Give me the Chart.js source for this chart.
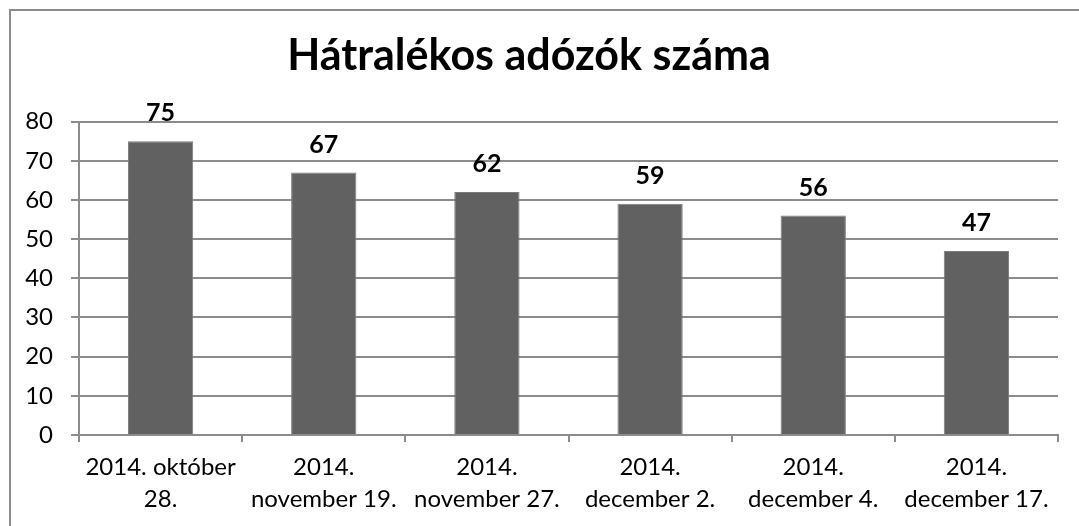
<!DOCTYPE html>
<html>
<head>
<meta charset="utf-8">
<script src="https://cdn.jsdelivr.net/npm/chart.js@4/dist/chart.umd.min.js"></script>
<style>
    html, body { margin: 0; padding: 0; background: #fff; }
    #wrap { position: relative; width: 1079px; height: 526px; }
    #frame {
        position: absolute; left: 9px; top: 9px; width: 1100px; height: 560px;
        border-left: 2px solid #8c8c8c; border-top: 2px solid #8c8c8c;
        pointer-events: none;
    }
</style>
</head>
<body>
<div id="wrap">
    <canvas id="chart" width="1079" height="526"></canvas>
    <div id="frame"></div>
</div>
<script>
const chartTitle = "Hátralékos adózók száma";
const categories = [
    ["2014. október", "28."],
    ["2014.", "november 19."],
    ["2014.", "november 27."],
    ["2014.", "december 2."],
    ["2014.", "december 4."],
    ["2014.", "december 17."]
];
const values = [75, 67, 62, 59, 56, 47];
const yTicks = [0, 10, 20, 30, 40, 50, 60, 70, 80];

const FONT = "Lato, 'Noto Sans', sans-serif";
const GRID = "#8c8c8c";

// Draws the numbers above each bar.
const valueLabels = {
    id: "valueLabels",
    afterDatasetsDraw(chart) {
        const ctx = chart.ctx;
        const meta = chart.getDatasetMeta(0);
        ctx.save();
        ctx.font = "bold 25px " + FONT;
        ctx.fillStyle = "#000";
        ctx.textAlign = "center";
        ctx.textBaseline = "middle";
        meta.data.forEach((bar, i) => {
            ctx.fillText(String(values[i]), bar.x, bar.y - 28);
        });
        ctx.restore();
    }
};

new Chart(document.getElementById("chart"), {
    type: "bar",
    data: {
        labels: categories,
        datasets: [{
            data: values,
            backgroundColor: "#616161",
            borderColor: "#7c7c7c",
            borderWidth: 1,
            barPercentage: 0.4,
            categoryPercentage: 1.0
        }]
    },
    options: {
        responsive: false,
        animation: false,
        layout: { padding: { left: 0, right: 21, top: 0, bottom: 0 } },
        plugins: {
            legend: { display: false },
            tooltip: { enabled: false },
            title: {
                display: true,
                text: chartTitle,
                color: "#000",
                font: { family: FONT, size: 43, weight: "bold", lineHeight: 1.2 },
                padding: { top: 30, bottom: 40 }
            }
        },
        scales: {
            x: {
                offset: true,
                afterFit(s) { s.height = 91; },
                grid: {
                    display: true,
                    drawOnChartArea: false,
                    offset: true,
                    tickLength: 7,
                    color: GRID,
                    lineWidth: 2
                },
                border: { display: true, color: GRID, width: 2 },
                ticks: {
                    color: "#000",
                    padding: 10,
                    maxRotation: 0,
                    autoSkip: false,
                    font: { family: FONT, size: 24, lineHeight: 1.3 }
                }
            },
            y: {
                min: 0,
                max: 80,
                afterFit(s) { s.width = 79; },
                afterBuildTicks(s) { s.ticks = yTicks.map(v => ({ value: v })); },
                grid: { color: GRID, lineWidth: 2, tickLength: 8 },
                border: { display: true, color: GRID, width: 2 },
                ticks: {
                    color: "#000",
                    padding: 18,
                    font: { family: FONT, size: 24 }
                }
            }
        }
    },
    plugins: [valueLabels]
});
</script>
</body>
</html>
